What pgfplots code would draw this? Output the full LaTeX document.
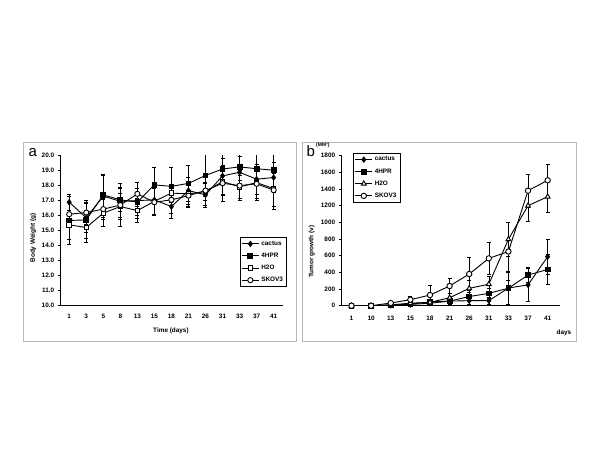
\documentclass[border=0pt]{standalone}
\usepackage{fontspec}
\setmainfont{Liberation Sans}
\usepackage{pgfplots}
\pgfplotsset{compat=1.18}
\begin{document}
\begin{tikzpicture}
\useasboundingbox (0pt,0pt) rectangle (600pt,450pt);
\fill[white] (0pt,0pt) rectangle (600pt,450pt);
\draw[black!28, line width=0.9pt] (23.3pt,108.3pt) rectangle (296pt,307.3pt);
\draw[black!28, line width=0.9pt] (302.7pt,108.3pt) rectangle (576pt,307.3pt);
\pgfplotsset{
  common/.style={
    scale only axis,
    anchor=south west,
    axis x line*=bottom,
    axis y line*=left,
    axis line style={black, line width=0.8pt},
    tick align=outside,
    every tick/.style={black, line width=0.6pt},
    major tick length=3pt,
    minor tick length=3pt,
    /pgf/number format/assume math mode=true,
    /pgf/number format/1000 sep={},
    tick label style={font=\fontsize{6.4}{7}\selectfont\bfseries},
    label style={font=\fontsize{6.4}{7}\selectfont\bfseries},
    x tick style={draw=none},
    minor x tick style={black, line width=0.6pt},
    legend style={draw=black, line width=0.5pt, font=\fontsize{6.4}{7}\selectfont\bfseries, row sep=2.2pt, inner sep=1.5pt},
    legend cell align=left,
    legend image post style={line width=0.9pt},
    every axis plot/.append style={line width=0.9pt, black},
    error bars/error bar style={line width=0.6pt, black},
    error bars/error mark options={rotate=90, mark size=2pt, line width=0.6pt, black},
  },
  eb/.style={error bars/.cd, y dir=both, y explicit},
}
% ---------------- panel a ----------------
\begin{axis}[common,
  at={(60.7pt,144.7pt)},
  width=222.3pt, height=149.6pt,
  xmin=-0.5, xmax=12.55,
  ymin=10, ymax=20,
  ytick={10,11,...,20},
  yticklabel style={/pgf/number format/.cd, fixed, fixed zerofill, precision=1},
  xtick={0,...,12},
  xticklabels={1,3,5,8,13,15,18,21,26,31,33,37,41},
  minor xtick={-0.5,0.5,...,12.5},
  xticklabel style={yshift=-2pt},
  xlabel={Time (days)},
  xlabel style={at={(axis description cs:0.496,-0.171)}, anchor=center},
  ylabel={Body Weight (g)},
  ylabel style={at={(axis description cs:-0.123,0.45)}, anchor=center, rotate=0},
  legend style={at={(axis description cs:1.017,0.4545)}, anchor=north east},
]
\addplot[mark=diamond*, mark size=2.6pt, mark options={fill=black, solid}, eb] table[x=x,y=y,y error=e] {
x y e
0 16.89 0.55
1 15.85 1.0
2 17.30 1.4
3 16.95 1.2
4 17.00 1.2
5 17.05 1.0
6 16.60 0.8
7 17.67 0.9
8 17.38 0.8
9 18.65 1.2
10 18.89 1.1
11 18.43 1.0
12 18.54 1.0
};
\addlegendentry{cactus}
\addplot[mark=square*, mark size=2.4pt, mark options={fill=black, solid}, eb] table[x=x,y=y,y error=e] {
x y e
0 15.67 1.6
1 15.71 1.2
2 17.38 1.35
3 17.05 0.8
4 16.90 0.9
5 18.05 1.15
6 17.95 1.3
7 18.15 1.2
8 18.68 1.4
9 19.11 1.0
10 19.25 0.9
11 19.13 1.0
12 19.03 1.2
};
\addlegendentry{4HPR}
\addplot[mark=square*, mark size=2.3pt, mark options={fill=white, draw=black, solid}, eb] table[x=x,y=y,y error=e] {
x y e
0 15.38 1.0
1 15.20 1.0
2 16.16 0.9
3 16.60 1.3
4 16.33 0.8
5 16.95 0.9
6 17.50 0.6
7 17.45 0.8
8 17.60 0.6
9 18.27 0.9
10 17.92 0.8
11 18.20 1.2
12 17.80 1.4
};
\addlegendentry{H2O}
\addplot[mark=*, mark size=2.6pt, mark options={fill=white, draw=black, solid}, eb] table[x=x,y=y,y error=e] {
x y e
0 16.09 0.8
1 16.20 0.8
2 16.43 0.7
3 16.70 0.8
4 17.45 0.8
5 16.89 0.9
6 17.05 0.9
7 17.33 0.8
8 17.67 1.0
9 18.16 1.2
10 18.00 1.0
11 18.12 1.0
12 17.70 1.1
};
\addlegendentry{SKOV3}
\end{axis}
\node[font=\fontsize{15}{15}\selectfont, anchor=base west, inner sep=0pt] at (28.5pt,293.5pt) {a};
% ---------------- panel b ----------------
\begin{axis}[common,
  at={(341.7pt,144.3pt)},
  width=218.3pt, height=150pt,
  xmin=-0.5, xmax=10.63,
  ymin=0, ymax=1800,
  ytick={0,200,...,1800},
  xtick={0,...,10},
  xticklabels={1,10,13,15,18,21,26,31,33,37,41},
  minor xtick={-0.5,0.5,...,10.5},
  xticklabel style={yshift=-4pt},
  xlabel={days},
  xlabel style={at={(axis description cs:1.018,-0.184)}, anchor=center},
  ylabel={Tumor growth (v)},
  ylabel style={at={(axis description cs:-0.137,0.36)}, anchor=center},
  legend style={at={(axis description cs:0.052,1.018)}, anchor=north west},
]
\addplot[mark=diamond*, mark size=2.6pt, mark options={fill=black, solid}, eb] table[x=x,y=y,y error=e] {
x y e
0 0 0
1 0 0
2 5 5
3 15 10
4 30 20
5 55 40
6 60 40
7 60 40
8 212 195
9 250 200
10 588 210
};
\addlegendentry{cactus}
\addplot[mark=square*, mark size=2.4pt, mark options={fill=black, solid}, eb] table[x=x,y=y,y error=e] {
x y e
0 0 0
1 0 0
2 8 5
3 20 10
4 45 20
5 55 30
6 110 50
7 148 60
8 210 190
9 368 90
10 435 180
};
\addlegendentry{4HPR}
\addplot[mark=triangle*, mark size=2.8pt, mark options={fill=white, draw=black, solid}, eb] table[x=x,y=y,y error=e] {
x y e
0 0 0
1 0 0
2 10 10
3 30 15
4 40 30
5 95 50
6 208 100
7 258 100
8 797 200
9 1200 185
10 1308 190
};
\addlegendentry{H2O}
\addplot[mark=*, mark size=2.7pt, mark options={fill=white, draw=black, solid}, eb] table[x=x,y=y,y error=e] {
x y e
0 0 0
1 0 0
2 32 10
3 72 36
4 128 116
5 236 92
6 380 196
7 568 192
8 650 350
9 1380 197
10 1505 192
};
\addlegendentry{SKOV3}
\end{axis}
\node[font=\fontsize{15}{15}\selectfont, anchor=base west, inner sep=0pt] at (306.5pt,293.5pt) {b};
\node[font=\fontsize{5}{5}\selectfont\bfseries, anchor=base west, inner sep=0pt] at (316pt,303pt) {(MM³)};
\end{tikzpicture}
\end{document}
